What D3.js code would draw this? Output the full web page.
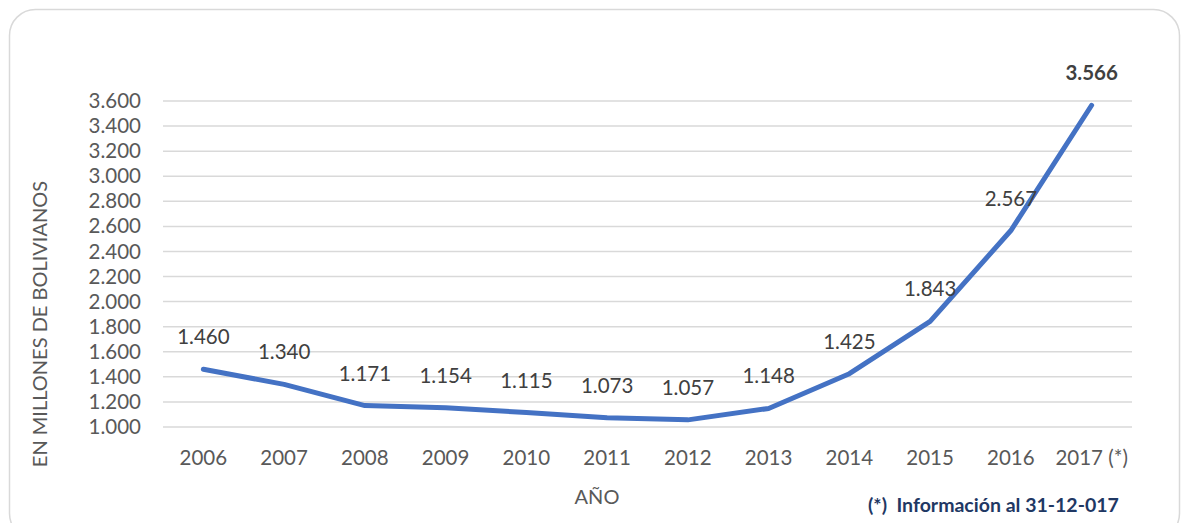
<!DOCTYPE html>
<html><head><meta charset="utf-8">
<script src="https://cdn.jsdelivr.net/npm/d3@7"></script>
<style>body{margin:0;background:#fff}svg{display:block}text{font-family:Lato,"Open Sans",sans-serif}</style>
</head><body><svg id="c" width="1184" height="523"></svg>
<script>
const years = ["2006","2007","2008","2009","2010","2011","2012","2013","2014","2015","2016","2017 (*)"];
const values = [1460,1340,1171,1154,1115,1073,1057,1148,1425,1843,2567,3566];
const labels = ["1.460","1.340","1.171","1.154","1.115","1.073","1.057","1.148","1.425","1.843","2.567","3.566"];
const yTicks = [1000,1200,1400,1600,1800,2000,2200,2400,2600,2800,3000,3200,3400,3600];
const fmt = v => d3.format(",")(v).replace(/,/g,".");

const svg = d3.select("#c");
svg.append("rect").attr("x",9.5).attr("y",9.5).attr("width",1170).attr("height",530)
  .attr("rx",26).attr("fill","#fff").attr("stroke","#d9d9d9").attr("stroke-width",1.5);

const x = d3.scaleBand().domain(years).range([163,1132]);
const y = d3.scaleLinear().domain([1000,3600]).range([427,101]);

const grid = svg.append("g");
grid.selectAll("line").data(yTicks).join("line")
  .attr("x1",163).attr("x2",1132).attr("y1",d=>y(d)).attr("y2",d=>y(d))
  .attr("stroke","#d9d9d9").attr("stroke-width",1.5);

const yAxis = svg.append("g").attr("transform","translate(163,0)")
  .call(d3.axisLeft(y).tickValues(yTicks).tickFormat(fmt).tickSize(0).tickPadding(22));
yAxis.select(".domain").remove();
yAxis.selectAll("text").attr("font-size",20.5).attr("fill","#595959").attr("font-family","Lato");

const xAxis = svg.append("g").attr("transform","translate(0,427)")
  .call(d3.axisBottom(x).tickSize(0).tickPadding(23));
xAxis.select(".domain").remove();
xAxis.selectAll("text").attr("font-size",20.5).attr("fill","#595959").attr("font-family","Lato");

const line = d3.line().x((d,i)=>x(years[i])+x.bandwidth()/2).y(d=>y(d));
svg.append("path").datum(values).attr("d",line).attr("fill","none")
  .attr("stroke","#4472c4").attr("stroke-width",5).attr("stroke-linecap","round").attr("stroke-linejoin","round");

svg.append("g").selectAll("text").data(values).join("text")
  .attr("x",(d,i)=>x(years[i])+x.bandwidth()/2)
  .attr("y",d=>y(d)-25)
  .attr("text-anchor","middle").attr("font-size",20.5)
  .attr("font-weight",(d,i)=>i===values.length-1?"bold":"normal")
  .attr("fill","#404040").text((d,i)=>labels[i]);

svg.append("text").attr("transform","translate(47,324) rotate(-90)").attr("text-anchor","middle")
  .attr("font-size",20).attr("fill","#595959").text("EN MILLONES DE BOLIVIANOS");
svg.append("text").attr("x",597).attr("y",504).attr("text-anchor","middle")
  .attr("font-size",20).attr("fill","#595959").text("AÑO");
svg.append("text").attr("x",868).attr("y",512).attr("font-size",19.5).attr("font-weight","bold")
  .attr("fill","#1f3864").attr("xml:space","preserve").text("(*)  Información al 31-12-017");
</script></body></html>
